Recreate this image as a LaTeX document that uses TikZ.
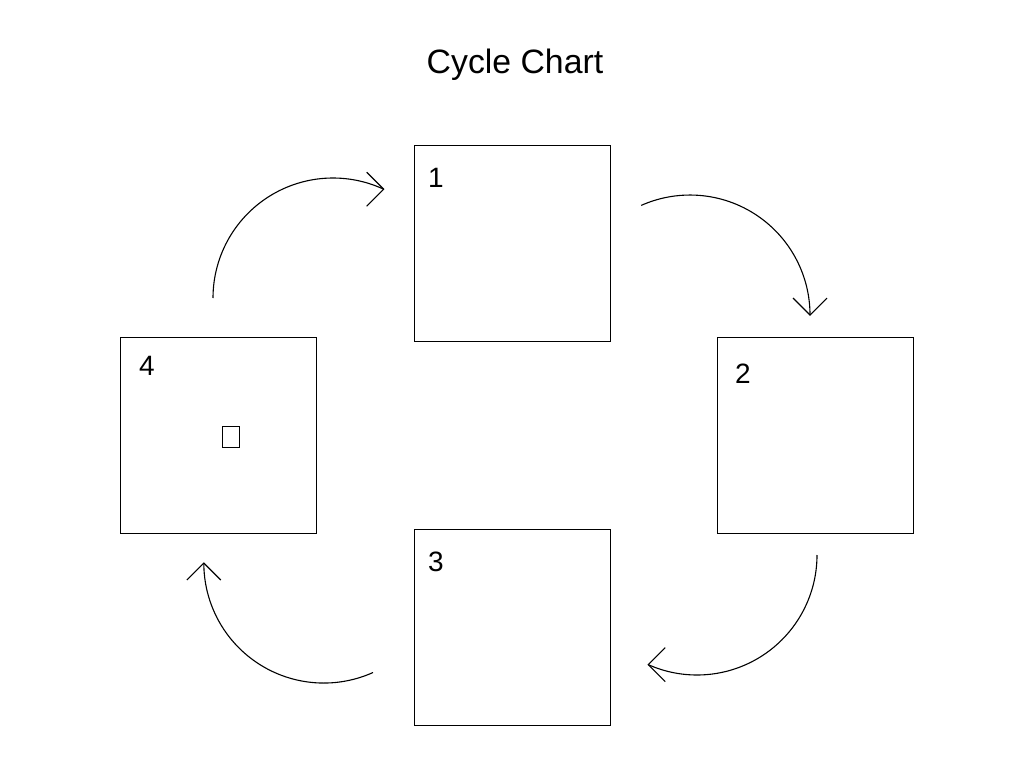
\documentclass[tikz,border=0pt]{standalone}
\usepackage{fontspec}
\setmainfont{Liberation Sans}
\begin{document}
\begin{tikzpicture}[x=1pt,y=-1pt,
  box/.style={draw=black,line width=1.1pt,minimum width=196pt,minimum height=196pt,inner sep=0pt,anchor=north west},
  lbl/.style={anchor=base west,inner sep=0pt,font=\fontsize{28}{30}\selectfont},
  arc line/.style={draw=black,line width=1.1pt},
  barb/.style={draw=black,line width=1.1pt}]
\useasboundingbox (0,0) rectangle (1024,768);
\fill[white] (0,0) rectangle (1024,768);
\node[anchor=base,inner sep=0pt,font=\fontsize{33.8}{38}\selectfont] (title) at (515,73) {Cycle Chart};
\node[box] (b1) at (414,145) {};
\node[box] (b2) at (717,337) {};
\node[box] (b3) at (414,529) {};
\node[box] (b4) at (119.5,337) {};
\node[lbl] (l1) at (428,187) {1};
\node[lbl] (l2) at (735,383) {2};
\node[lbl] (l3) at (428,571) {3};
\node[lbl] (l4) at (139,375) {4};
\node[draw=black,line width=0.8pt,minimum width=17pt,minimum height=21pt,inner sep=0pt] (sq) at (230.5,436.5) {};
% arcs
\coordinate (sA) at (213,298);
\coordinate (sB) at (641.2,205.4);
\coordinate (sC) at (817,555);
\coordinate (sD) at (373,672.5);
\draw[arc line] (sA) arc[start angle=180,end angle=295,radius=120] coordinate (tA);
\draw[arc line] (sB) arc[start angle=246,end angle=360,radius=120] coordinate (tB);
\draw[arc line] (sC) arc[start angle=0,end angle=114,radius=120] coordinate (tC);
\draw[arc line] (sD) arc[start angle=65.8,end angle=180,radius=120] coordinate (tD);
% arrow heads
\draw[barb] ([shift={(-17,-17)}]tA) -- (tA) -- ([shift={(-17,17)}]tA);
\draw[barb] ([shift={(-17,-17)}]tB) -- (tB) -- ([shift={(17,-17)}]tB);
\draw[barb] ([shift={(17,-17)}]tC) -- (tC) -- ([shift={(17,17)}]tC);
\draw[barb] ([shift={(-17,17)}]tD) -- (tD) -- ([shift={(17,17)}]tD);
\end{tikzpicture}
\end{document}
